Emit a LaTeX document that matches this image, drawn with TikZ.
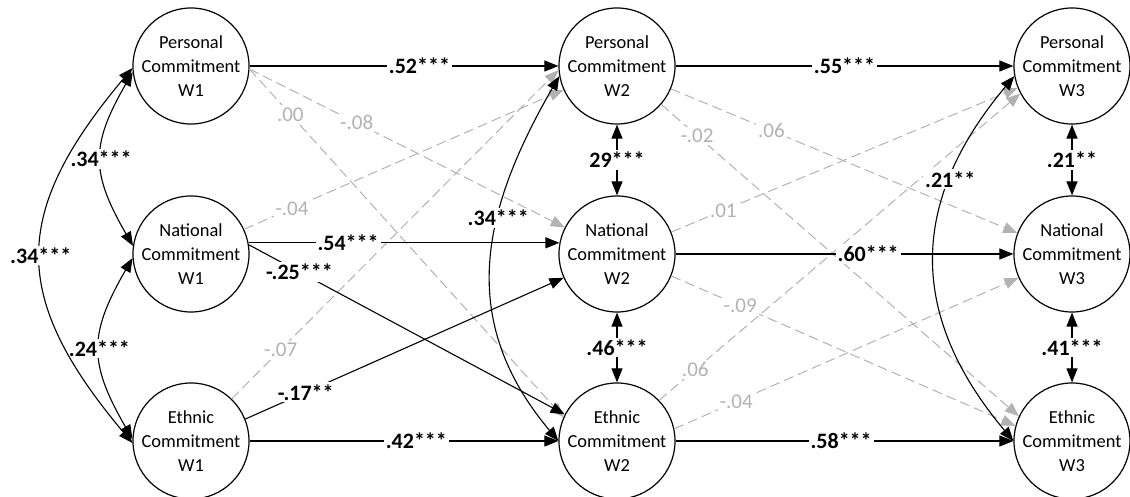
\documentclass[tikz,border=0pt]{standalone}
\usepackage{fontspec}
\setmainfont{Carlito}
\usetikzlibrary{positioning,arrows.meta}
\definecolor{lagray}{RGB}{178,178,178}
\tikzset{
  factor/.style  = {circle,draw,line width=0.6pt,minimum size=56pt,inner sep=0pt,
                    align=center,font=\fontsize{9.2}{12}\selectfont},
  reg/.style     = {->,line width=0.55pt},
  cov/.style     = {<->,line width=0.55pt},
  lag/.style     = {->,draw=lagray,dash pattern=on 5pt off 2.5pt,line width=0.5pt},
  coef/.style    = {fill=white,inner sep=1pt,font=\fontsize{11}{12}\selectfont\bfseries},
  lagcoef/.style = {fill=white,inner sep=1pt,text=lagray,font=\fontsize{10.5}{12}\selectfont},
  >={Triangle[length=7pt,width=5.5pt]}
}
\newcommand{\DrawFactor}[4]{%
  % draws the circle (latent factor) with its three text lines
  \node[factor] (#1) at #2 {#3\\Commitment\\#4};
}

\begin{document}
\begin{tikzpicture}[x=0.5pt,y=0.5pt]
    \useasboundingbox (0,0) rectangle (1130,497);

    % wave 1
    \DrawFactor{pc1}{(191,431)}{Personal}{W1}
    \DrawFactor{nc1}{(191,243)}{National}{W1}
    \DrawFactor{ec1}{(191,56)}{Ethnic}{W1}
    % wave 2
    \DrawFactor{pc2}{(617,431)}{Personal}{W2}
    \DrawFactor{nc2}{(617,243)}{National}{W2}
    \DrawFactor{ec2}{(617,56)}{Ethnic}{W2}
    % wave 3
    \DrawFactor{pc3}{(1072,431)}{Personal}{W3}
    \DrawFactor{nc3}{(1072,243)}{National}{W3}
    \DrawFactor{ec3}{(1072,56)}{Ethnic}{W3}

    % non-significant cross-lagged paths (gray, dashed)
    \draw[lag] (pc1.-3) -- node[lagcoef,pos=0.34] {-.08} (nc2.153);
    \draw[lag] (pc1.-3) -- node[lagcoef,pos=0.13] {.00} (ec2.156);
    \draw[lag] (nc1.25) -- node[lagcoef,pos=0.15] {-.04} (pc2.204);
    \draw[lag] (ec1.46) -- node[lagcoef,pos=0.15] {-.07} (pc2.184);
    \draw[lag] (pc2.-23) -- node[lagcoef,pos=0.29] {.06} (nc3.159);
    \draw[lag] (pc2.-41) -- node[lagcoef,pos=0.1] {-.02} (ec3.155);
    \draw[lag] (nc2.22) -- node[lagcoef,pos=0.15] {.01} (pc3.202);
    \draw[lag] (nc2.-22) -- node[lagcoef,pos=0.2] {-.09} (ec3.165);
    \draw[lag] (ec2.44) -- node[lagcoef,pos=0.1] {.06} (pc3.208);
    \draw[lag] (ec2.12) -- node[lagcoef,pos=0.18] {-.04} (nc3.204);

    % stability paths
    \draw[reg] (pc1) -- node[coef,pos=0.55] {.52***} (pc2);
    \draw[reg] (nc1.11) -- node[coef,pos=0.32] {.54***} (nc2.169);
    \draw[reg] (ec1) -- node[coef,pos=0.54] {.42***} (ec2);
    \draw[reg] (pc2) -- node[coef,pos=0.5] {.55***} (pc3);
    \draw[reg] (nc2) -- node[coef,pos=0.57] {.60***} (nc3);
    \draw[reg] (ec2) -- node[coef,pos=0.49] {.58***} (ec3);

    % significant cross-lagged paths
    \draw[reg] (nc1.9) -- node[coef,pos=0.16] {-.25***} (ec2.153);
    \draw[reg] (ec1.22) -- node[coef,pos=0.19] {-.17**} (nc2.204);

    % correlations within wave 1
    \draw[cov] (pc1.186) to[out=240,in=120,looseness=1.25] node[coef] {.34***} (nc1.172);
    \draw[cov] (nc1.184) to[out=240,in=120,looseness=1.25] node[coef] {.24***} (ec1.178);
    \draw[cov] (pc1.182) to[out=230,in=130,looseness=1.3] node[coef] {.34***} (ec1.182);

    % residual correlations, waves 2 and 3
    \draw[cov] (pc2) -- node[coef] {29***} (nc2);
    \draw[cov] (nc2) -- node[coef] {.46***} (ec2);
    \draw[cov] (pc2.190) to[out=240,in=130,looseness=1.1] node[coef,pos=0.37] {.34***} (ec2.west);
    \draw[cov] (pc3) -- node[coef] {.21**} (nc3);
    \draw[cov] (nc3) -- node[coef] {.41***} (ec3);
    \draw[cov] (pc3.190) to[out=230,in=130,looseness=1.15] node[coef,pos=0.28] {.21**} (ec3.west);
\end{tikzpicture}
\end{document}
